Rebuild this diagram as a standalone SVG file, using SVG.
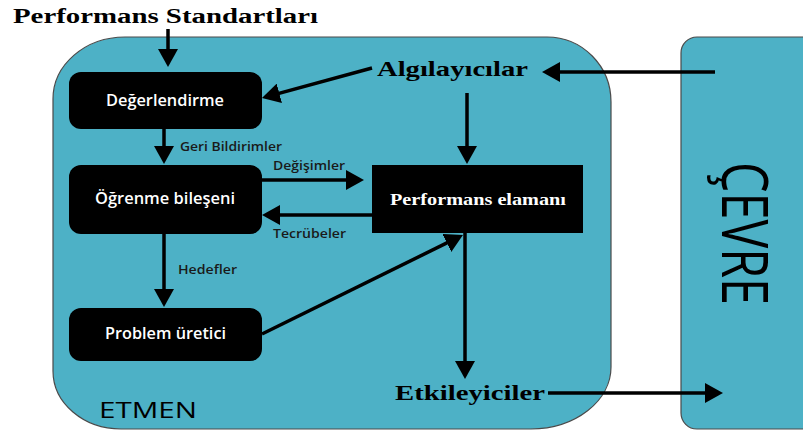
<svg xmlns="http://www.w3.org/2000/svg" width="803" height="430" viewBox="0 0 803 430">
  <style>
    .panel { fill: #4db1c6; stroke: #4a4a4a; stroke-width: 1.2; }
    .box { fill: #000000; }
    .wire { stroke: #000000; stroke-width: 3.5; fill: none; marker-end: url(#head); }
    .box-label { font-family: "Open Sans", "DejaVu Sans", sans-serif; font-weight: 600; fill: #ffffff; }
    .edge-label { font-family: "Open Sans", "DejaVu Sans", sans-serif; font-weight: 600; font-size: 13px; fill: #1a1a1a; }
    .title { font-family: "Liberation Serif", "Times New Roman", serif; font-weight: bold; fill: #000000; }
    .panel-label { font-family: "Open Sans", "DejaVu Sans", sans-serif; font-weight: 400; fill: #000000; }
  </style>
  <defs>
    <!-- triangular arrowhead; its tip lies 10 units past the line end -->
    <marker id="head" markerUnits="userSpaceOnUse" viewBox="0 0 18 20" refX="8" refY="10" markerWidth="18" markerHeight="20" orient="auto">
      <path d="M0,0 L18,10 L0,20 Z" fill="#000000"/>
    </marker>
  </defs>

  <!-- agent container -->
  <g id="etmen">
    <path class="panel" d="M125,37 H547 A64,65 0 0 1 611,102 V367 A80,62 0 0 1 531,429 H121 A68,58 0 0 1 53,371 V99 A72,62 0 0 1 125,37 Z"/>
    <text class="panel-label" x="99" y="418" font-size="22" textLength="98" lengthAdjust="spacingAndGlyphs">ETMEN</text>
  </g>

  <!-- environment container -->
  <g id="cevre">
    <rect class="panel" x="681" y="37" width="140" height="392" rx="16"/>
    <text class="panel-label" font-size="49" textLength="143" lengthAdjust="spacingAndGlyphs" transform="translate(722,162) rotate(90) scale(1,1.3)">ÇEVRE</text>
  </g>

  <g id="performans-standartlari">
    <text class="title" x="13" y="23" font-size="20" textLength="305" lengthAdjust="spacingAndGlyphs">Performans Standartları</text>
  </g>

  <g id="algilayicilar">
    <text class="title" x="377" y="76" font-size="22" textLength="151" lengthAdjust="spacingAndGlyphs">Algılayıcılar</text>
  </g>

  <g id="etkileyiciler">
    <text class="title" x="395" y="400" font-size="22" textLength="150" lengthAdjust="spacingAndGlyphs">Etkileyiciler</text>
  </g>

  <g id="degerlendirme">
    <rect class="box" x="69" y="72" width="193" height="57" rx="12"/>
    <text class="box-label" x="106" y="106" font-size="15.5" textLength="118" lengthAdjust="spacingAndGlyphs">Değerlendirme</text>
  </g>

  <g id="ogrenme-bileseni">
    <rect class="box" x="69" y="165" width="193" height="69" rx="12"/>
    <text class="box-label" x="95" y="204" font-size="16.5" textLength="140" lengthAdjust="spacingAndGlyphs">Öğrenme bileşeni</text>
  </g>

  <g id="problem-uretici">
    <rect class="box" x="69" y="308" width="193" height="53" rx="12"/>
    <text class="box-label" x="105" y="339" font-size="15.5" textLength="121" lengthAdjust="spacingAndGlyphs">Problem üretici</text>
  </g>

  <g id="performans-elamani">
    <rect class="box" x="372" y="165" width="211" height="68"/>
    <text class="title" x="390" y="205" font-size="17" fill="#ffffff" style="fill:#ffffff" textLength="176" lengthAdjust="spacingAndGlyphs">Performans elamanı</text>
  </g>

  <g id="connectors">
    <!-- standards into evaluation -->
    <line class="wire" x1="168" y1="29" x2="168" y2="57"/>
    <!-- sensors into evaluation -->
    <line class="wire" x1="372" y1="68" x2="271.6" y2="95.4"/>
    <!-- evaluation to learning: feedback -->
    <line class="wire" x1="164" y1="129" x2="164" y2="154"/>
    <!-- learning to performance: changes -->
    <line class="wire" x1="262" y1="180" x2="354" y2="180"/>
    <!-- performance to learning: experience -->
    <line class="wire" x1="372" y1="215" x2="272" y2="215"/>
    <!-- sensors into performance element -->
    <line class="wire" x1="467" y1="93" x2="467" y2="154"/>
    <!-- learning to problem generator: goals -->
    <line class="wire" x1="164" y1="234" x2="164" y2="297"/>
    <!-- problem generator to performance element -->
    <line class="wire" x1="262" y1="334" x2="454" y2="239.4"/>
    <!-- performance element to effectors -->
    <line class="wire" x1="465" y1="233" x2="465" y2="369"/>
    <!-- effectors out to environment -->
    <line class="wire" x1="548" y1="393" x2="713" y2="393"/>
    <!-- environment back to sensors -->
    <line class="wire" x1="715" y1="72" x2="552" y2="72"/>

    <text class="edge-label" x="180" y="151" textLength="102" lengthAdjust="spacingAndGlyphs">Geri Bildirimler</text>
    <text class="edge-label" x="273" y="170" textLength="72" lengthAdjust="spacingAndGlyphs">Değişimler</text>
    <text class="edge-label" x="273" y="238" textLength="73" lengthAdjust="spacingAndGlyphs">Tecrübeler</text>
    <text class="edge-label" x="178" y="274" textLength="59" lengthAdjust="spacingAndGlyphs">Hedefler</text>
  </g>
</svg>
